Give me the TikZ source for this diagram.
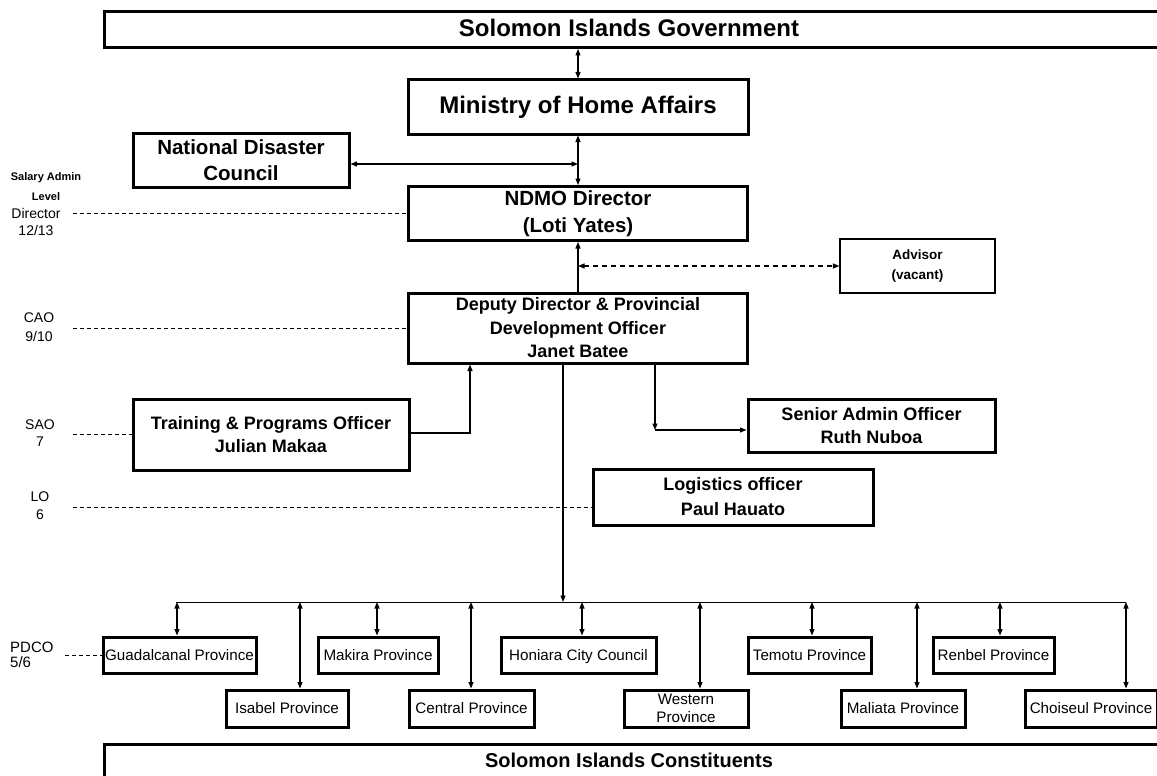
\documentclass[tikz,border=0pt]{standalone}
\usepackage{fontspec}
\setmainfont{Liberation Sans}
\usetikzlibrary{arrows.meta}

\newcommand{\fsz}[2]{\fontsize{#1}{#2}\selectfont}

\tikzset{
  >={Triangle[length=6.5pt,width=5pt]},
  orgbox/.style={draw, line width=3pt, inner sep=0pt, align=center, font=\bfseries\fsz{18}{23.5}},
  provbox/.style={draw, line width=3pt, inner sep=0pt, align=center, font=\fsz{15.2}{18}},
  link/.style={line width=1.2pt},
  gradeline/.style={line width=0.9pt, dash pattern=on 4pt off 3pt},
  lvl/.style={inner sep=0pt, align=center, font=\fsz{14}{17}},
}

\begin{document}
\begin{tikzpicture}[x=1pt,y=-1pt]
    \useasboundingbox (0,0) rectangle (1157,776);
    \clip (0,0) rectangle (1157,776);

    % government and constituents bars
    \node[orgbox, anchor=north west, minimum width=1090pt, minimum height=36pt] (gov) at (103,10) {};
    \node[font=\bfseries\fsz{24}{26}] (govtext) at (629,28) {Solomon Islands Government};
    \node[orgbox, anchor=north west, minimum width=1090pt, minimum height=60pt] (cons) at (103,743) {};
    \node[font=\bfseries\fsz{20}{24}] (constext) at (629,760) {Solomon Islands Constituents};

    % main chain
    \node[orgbox, font=\bfseries\fsz{24}{28}, minimum width=340pt, minimum height=54pt] (mha) at (578,107) {Ministry of Home Affairs};
    \node[orgbox, font=\bfseries\fsz{20.5}{26}, minimum width=216pt, minimum height=54pt] (ndc) at (241,160) {National Disaster\\Council};
    \node[orgbox, font=\bfseries\fsz{20.5}{27}, minimum width=339pt, minimum height=54pt] (ndmo) at (578,213.5) {NDMO Director\\(Loti Yates)};
    \node[draw, line width=1.3pt, inner sep=0pt, align=center, font=\bfseries\fsz{13.5}{20}, minimum width=155pt, minimum height=54pt] (adv) at (917.5,266) {Advisor\\(vacant)};
    \node[orgbox, minimum width=339pt, minimum height=70pt] (dep) at (578,328) {Deputy Director \& Provincial\\Development Officer\\Janet Batee};

    % officers
    \node[orgbox, minimum width=276pt, minimum height=71pt] (trn) at (271,434.5) {Training \& Programs Officer\\Julian Makaa};
    \node[orgbox, minimum width=247pt, minimum height=53pt] (sao) at (871.5,425.5) {Senior Admin Officer\\Ruth Nuboa};
    \node[orgbox, font=\bfseries\fsz{18}{25}, minimum width=280pt, minimum height=56pt] (log) at (733,497) {Logistics officer\\Paul Hauato};

    % provinces
    \node[provbox, minimum width=153pt, minimum height=36pt] (guad) at (179.5,655) {Guadalcanal Province};
    \node[provbox, minimum width=120pt, minimum height=36pt] (mak) at (378,655) {Makira Province};
    \node[provbox, minimum width=155pt, minimum height=36pt, text depth=0pt] (hon) at (578.5,655) {Honiara City Council};
    \node[provbox, minimum width=123pt, minimum height=36pt] (tem) at (809.5,655) {Temotu Province};
    \node[provbox, minimum width=121pt, minimum height=36pt] (ren) at (993.5,655) {Renbel Province};
    \node[provbox, minimum width=122pt, minimum height=37pt] (isa) at (287,708.5) {Isabel Province};
    \node[provbox, minimum width=125pt, minimum height=37pt] (cen) at (471.5,708.5) {Central Province};
    \node[provbox, minimum width=124pt, minimum height=37pt] (wes) at (686,708.5) {Western\\Province};
    \node[provbox, minimum width=124pt, minimum height=37pt] (mal) at (903,708.5) {Maliata Province};
    \node[provbox, minimum width=132pt, minimum height=37pt] (cho) at (1091,708.5) {Choiseul Province};

    % salary levels
    \node[lvl, font=\bfseries\fsz{11}{20}] (lvl-head) at (46,187) {Salary Admin\\Level};
    \node[lvl] (lvl-dir) at (36,221.5) {Director\\12/13};
    \node[lvl, font=\fsz{14}{19}] (lvl-cao) at (39,327.5) {CAO\\9/10};
    \node[lvl] (lvl-sao) at (40,433.5) {SAO\\7};
    \node[lvl, font=\fsz{14}{18}] (lvl-lo) at (40,506) {LO\\6};
    \node[lvl, align=left, anchor=west, font=\fsz{15}{15}] (lvl-pdco) at (10,654.5) {PDCO\\5/6};

    \coordinate (g-dir) at (73,213.5);
    \coordinate (g-cao) at (73,328);
    \coordinate (g-sao) at (73,434.5);
    \coordinate (g-lo) at (73,507);
    \coordinate (g-pdco) at (65,655);
    \draw[gradeline] (g-dir) -- (ndmo.west);
    \draw[gradeline] (g-cao) -- (dep.west);
    \draw[gradeline] (g-sao) -- (trn.west);
    \draw[gradeline] (g-lo) -- (g-lo -| log.west);
    \draw[gradeline] (g-pdco) -- (guad.west);

    % links down the chain
    \draw[link, <->] (gov.south -| mha.north) -- (mha.north);
    \draw[link, <->] (mha.south) -- (ndmo.north);
    \draw[link, <->] ([yshift=-4pt]ndc.east) -- ([yshift=-4pt]ndc.east -| mha.south);
    \draw[link, ->] (dep.north) -- (ndmo.south);
    \draw[link, <->, dash pattern=on 5pt off 4pt] (adv.west -| dep.north) -- (adv.west);

    % links below the deputy
    \coordinate (tbend) at (470,433);
    \coordinate (sbend) at (655,430);
    \coordinate (drop) at (563,602);
    \draw[link, ->] (tbend -| trn.east) -- (tbend) -- (tbend |- dep.south);
    \draw[link, ->] (sbend |- dep.south) -- (sbend);
    \draw[link, ->] (sbend) -- (sbend -| sao.west);
    \draw[link, ->] (drop |- dep.south) -- (drop);

    % provincial bus
    \coordinate (busL) at (176,602);
    \coordinate (busR) at (1126,602);
    \draw[line width=1pt] (busL) -- (busR);
    \foreach \p/\x in {guad/177, isa/300, mak/377, cen/471, hon/582, wes/700, tem/812, mal/917, ren/1000, cho/1126} {
        \coordinate (t-\p) at (\x,602);
        \draw[link, <->] (t-\p) -- (t-\p |- \p.north);
    }
\end{tikzpicture}
\end{document}
